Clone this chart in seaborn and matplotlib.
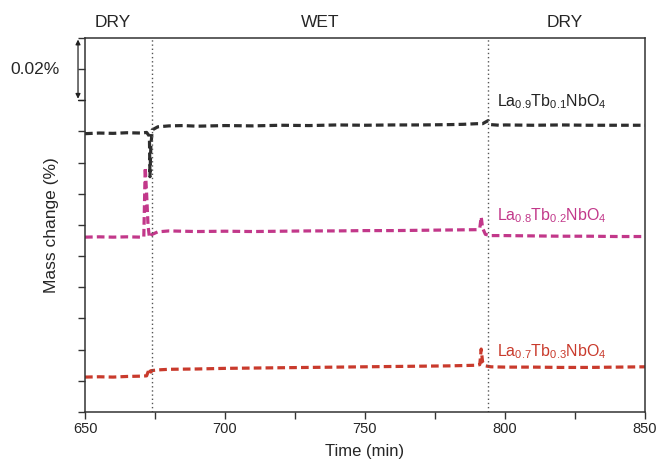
import matplotlib
matplotlib.use("Agg")
import matplotlib.pyplot as plt
import seaborn as sns
import pandas as pd

# ---- data (mass change in %) ----
time_a = [650, 655, 660, 665, 670, 672, 673, 673.2, 673.5, 674, 676, 680, 685, 690, 700, 710,
          720, 730, 740, 750, 760, 770, 780, 785, 790, 792, 794, 795, 798, 800, 810, 820, 830, 840, 850]
mass_a = [0.0893, 0.0895, 0.0894, 0.0896, 0.0895, 0.0897, 0.0885, 0.0755, 0.0850, 0.0905, 0.0915,
          0.0918, 0.0919, 0.0917, 0.0919, 0.0918, 0.0920, 0.0919, 0.0921, 0.0920, 0.0921, 0.0921,
          0.0922, 0.0923, 0.0925, 0.0925, 0.0935, 0.0922, 0.0920, 0.0921, 0.0920, 0.0921, 0.0920,
          0.0920, 0.0920]

time_b = [650, 655, 660, 665, 670, 671, 671.5, 672, 672.5, 673, 674, 676, 680, 690, 700, 710, 720,
          730, 740, 750, 760, 770, 780, 790, 791, 791.5, 792, 793, 795, 800, 810, 820, 830, 840, 850]
mass_b = [0.0561, 0.0562, 0.0561, 0.0562, 0.0561, 0.0562, 0.0785, 0.0700, 0.0600, 0.0560, 0.0570,
          0.0578, 0.0581, 0.0579, 0.0580, 0.0579, 0.0580, 0.0581, 0.0581, 0.0582, 0.0582, 0.0583,
          0.0584, 0.0585, 0.0590, 0.0626, 0.0590, 0.0570, 0.0566, 0.0566, 0.0565, 0.0564, 0.0564,
          0.0563, 0.0563]

time_c = [650, 655, 660, 665, 670, 672, 673, 673.5, 674, 676, 680, 690, 700, 710, 720, 730, 740,
          750, 760, 770, 780, 790, 791, 791.5, 792, 793, 795, 800, 810, 820, 830, 840, 850]
mass_c = [0.0112, 0.0113, 0.0112, 0.0114, 0.0115, 0.0116, 0.0140, 0.0128, 0.0133, 0.0135, 0.0137,
          0.0138, 0.0140, 0.0141, 0.0142, 0.0143, 0.0144, 0.0145, 0.0146, 0.0147, 0.0148, 0.0150,
          0.0152, 0.0202, 0.0160, 0.0148, 0.0145, 0.0144, 0.0144, 0.0143, 0.0143, 0.0144, 0.0145]

labels = [r"La$_{0.9}$Tb$_{0.1}$NbO$_4$", r"La$_{0.8}$Tb$_{0.2}$NbO$_4$", r"La$_{0.7}$Tb$_{0.3}$NbO$_4$"]
colors = ["#2e2e2e", "#c2388a", "#c93a2c"]
switch_times = [674, 794]
phases = ["DRY", "WET", "DRY"]
phase_x = [660, 734, 821.5]
xticks = [650, 700, 750, 800, 850]

sns.set_theme(style="white")
plt.rcParams["font.family"] = ["Liberation Sans", "DejaVu Sans"]
plt.rcParams["mathtext.fontset"] = "custom"
plt.rcParams["mathtext.rm"] = "Liberation Sans"
plt.rcParams["mathtext.it"] = "Liberation Sans"

fig = plt.figure(figsize=(6.57, 4.61), dpi=100)
ax = fig.add_axes([0.1294, 0.1063, 0.8523, 0.8113])

ls = (0, (2.4, 1.3))
for t, m, c in zip([time_a, time_b, time_c], [mass_a, mass_b, mass_c], colors):
    df = pd.DataFrame({"t": t, "m": m})
    sns.lineplot(data=df, x="t", y="m", ax=ax, color=c, linewidth=2.3,
                 linestyle=ls, estimator=None, sort=False)

for s in switch_times:
    ax.axvline(s, color="#555555", linestyle=(0, (1, 2)), linewidth=1.0)

ax.set_xlim(650, 850)
ax.set_ylim(0, 0.12)
ax.set_xticks(xticks)
ax.set_xticks([675, 725, 775, 825], minor=True)
ax.set_yticks([i * 0.01 for i in range(13)])
ax.set_yticklabels([])
ax.tick_params(axis="both", which="both", direction="out", length=5, width=1, color="#333333",
               bottom=True, left=True)
ax.tick_params(axis="x", labelsize=10.5, pad=2)
for sp in ax.spines.values():
    sp.set_color("#333333")
    sp.set_linewidth(1.1)

ax.set_xlabel("Time (min)", fontsize=12, labelpad=6)
ax.set_ylabel("Mass change (%)", fontsize=12.5, labelpad=10)

for name, x in zip(phases, phase_x):
    ax.text(x, 1.022, name, transform=ax.get_xaxis_transform(), ha="center", va="bottom", fontsize=12.5)

ax.text(797, 0.0965, labels[0], ha="left", va="bottom", fontsize=11.5, color="#222222")
ax.text(797, 0.0600, labels[1], ha="left", va="bottom", fontsize=11.5, color=colors[1])
ax.text(797, 0.0165, labels[2], ha="left", va="bottom", fontsize=11.5, color=colors[2])

# scale bar 0.02 %
ax.annotate("", xy=(647.5, 0.1195), xytext=(647.5, 0.1005), annotation_clip=False,
            arrowprops=dict(arrowstyle="<|-|>", color="#222222", lw=0.9, mutation_scale=7,
                            shrinkA=0, shrinkB=0))
ax.plot([647.5, 650], [0.10, 0.10], color="#222222", lw=0.9, clip_on=False)
ax.text(641, 0.110, "0.02%", ha="right", va="center", fontsize=12.5)

fig.savefig("out.png", dpi=100)
